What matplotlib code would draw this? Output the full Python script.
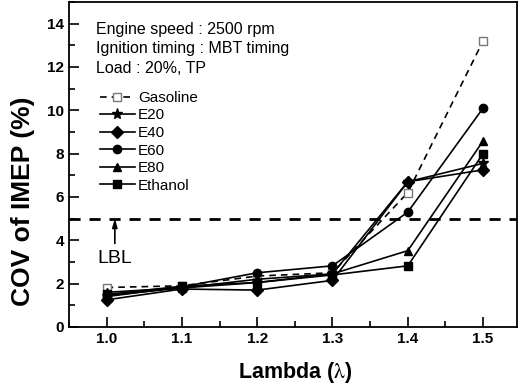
import numpy as np
import matplotlib.pyplot as plt
from matplotlib.ticker import MultipleLocator

plt.rcParams['font.family'] = ['Liberation Sans', 'DejaVu Sans']
plt.rcParams['mathtext.fontset'] = 'stix'

lam = [1.0, 1.1, 1.2, 1.3, 1.4, 1.5]

gasoline = [1.82, 1.90, 2.35, 2.50, 6.20, 13.20]
e20 = [1.45, 1.80, 2.05, 2.45, 6.70, 7.55]
e40 = [1.25, 1.75, 1.70, 2.15, 6.70, 7.25]
e60 = [1.40, 1.85, 2.50, 2.82, 5.30, 10.10]
e80 = [1.60, 1.80, 2.20, 2.45, 3.52, 8.58]
ethanol = [1.50, 1.88, 2.05, 2.40, 2.82, 8.00]

labels = ['Gasoline', 'E20', 'E40', 'E60', 'E80', 'Ethanol']
series = [gasoline, e20, e40, e60, e80, ethanol]
markers = ['s', '*', 'D', 'o', '^', 's']

lbl = 5.0

fig = plt.figure(figsize=(5.18, 3.86), dpi=100)
ax = fig.add_axes([0.133, 0.153, 0.865, 0.842])

for ys, name, m in zip(series, labels, markers):
    if name == 'Gasoline':
        ax.plot(lam, ys, ls=(0, (4, 3)), color='black', lw=1.2, marker=m,
                mfc='white', mec='#777777', ms=6, label=name)
    else:
        ms = 8 if m == '*' else 6
        ax.plot(lam, ys, ls='-', color='black', lw=1.2, marker=m, ms=ms,
                label=name)

# lean burn limit line
ax.axhline(lbl, color='black', lw=2.0, ls=(0, (4, 3.2)))
ax.annotate('', xy=(1.011, lbl), xytext=(1.011, 3.85),
            arrowprops=dict(arrowstyle='-|>,head_length=0.5,head_width=0.15',
                            color='black', lw=1.2, shrinkA=0, shrinkB=0))
ax.text(1.011, 3.15, 'LBL', fontsize=14, va='center', ha='center')

ax.text(0.986, 13.72, 'Engine speed : 2500 rpm', fontsize=11.5, va='center')
ax.text(0.986, 12.84, 'Ignition timing : MBT timing', fontsize=11.5, va='center')
ax.text(0.986, 11.95, 'Load : 20%, TP', fontsize=11.5, va='center')

leg = ax.legend(loc='upper left', bbox_to_anchor=(0.069, 0.726), frameon=False,
                fontsize=11, handlelength=2.3, handletextpad=0.2,
                labelspacing=0.23, borderpad=0, borderaxespad=0)

ax.set_xlim(0.95, 1.545)
ax.set_ylim(0, 15)
ax.set_xticks(lam)
ax.set_xticklabels(['1.0', '1.1', '1.2', '1.3', '1.4', '1.5'])
ax.xaxis.set_minor_locator(MultipleLocator(0.05))
ax.yaxis.set_major_locator(MultipleLocator(2))
ax.yaxis.set_minor_locator(MultipleLocator(1))
ax.tick_params(which='both', direction='in', width=1.2)
ax.tick_params(which='major', length=7, labelsize=11)
ax.tick_params(which='minor', length=4)
for t in ax.get_xticklabels() + ax.get_yticklabels():
    t.set_fontweight('bold')
for s in ax.spines.values():
    s.set_linewidth(1.3)

ax.set_xlabel('Lambda ($\\mathrm{\\lambda}$)', fontsize=15.5, fontweight='bold')
ax.set_ylabel('COV of IMEP (%)', fontsize=19, fontweight='bold')
ax.xaxis.set_label_coords(0.504, -0.102)
ax.yaxis.set_label_coords(-0.076, 0.388)

fig.savefig('out.png', dpi=100)
